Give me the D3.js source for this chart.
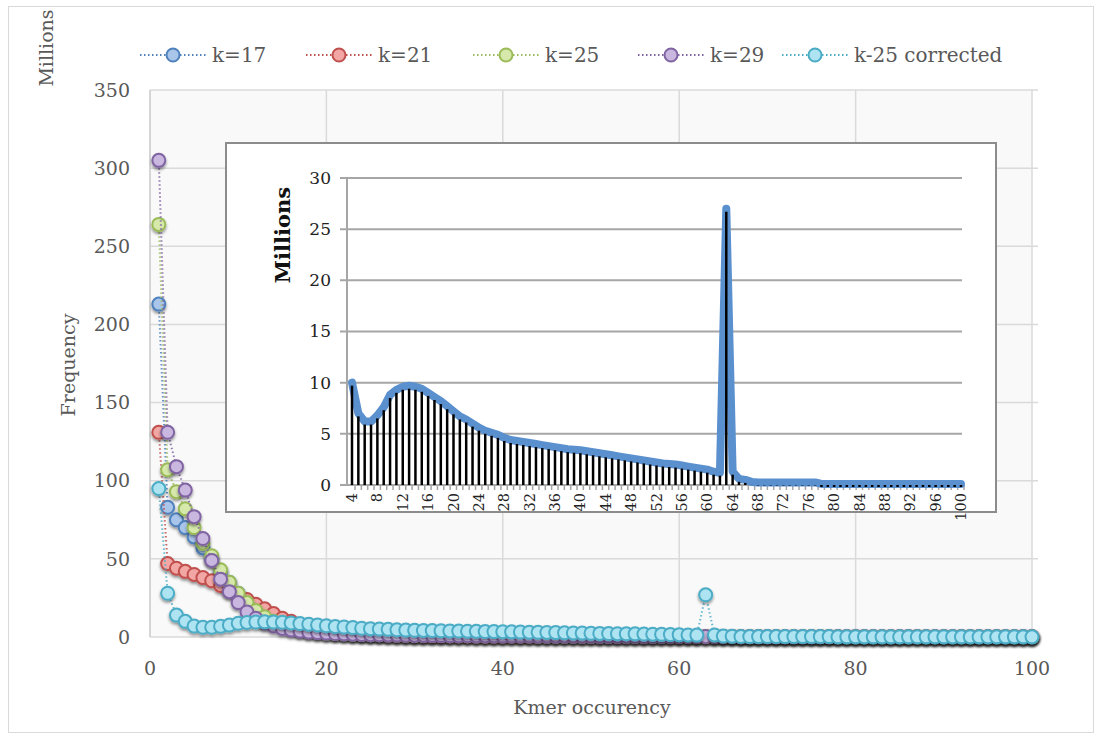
<!DOCTYPE html>
<html>
<head>
<meta charset="utf-8">
<script src="https://cdn.jsdelivr.net/npm/d3@7"></script>
<style>
  body { margin: 0; background: #fff; }
  text { font-family: "DejaVu Serif", serif; }
</style>
</head>
<body>
<div id="chart"></div>
<script>
// Main chart: frequency (millions) per kmer occurrence 1..100
const occurrence = d3.range(1, 101);

const k17 = [
  213, 83, 75, 70, 64, 57, 50, 42, 35, 28, 22, 17, 13, 10, 8, 6.5, 5.2, 4.3, 3.6, 3.0,
  2.6, 2.2, 1.9, 1.7, 1.5, 1.3, 1.2, 1.1, 1.0, 0.9, 0.8, 0.8, 0.7, 0.7, 0.6, 0.6, 0.5, 0.5, 0.5, 0.4,
  0.4, 0.4, 0.4, 0.3, 0.3, 0.3, 0.3, 0.3, 0.3, 0.3, 0.2, 0.2, 0.2, 0.2, 0.2, 0.2, 0.2, 0.2, 0.2, 0.2,
  0.2, 0.2, 0.2, 0.2, 0.2, 0.2, 0.2, 0.2, 0.2, 0.2, 0.1, 0.1, 0.1, 0.1, 0.1, 0.1, 0.1, 0.1, 0.1, 0.1,
  0.1, 0.1, 0.1, 0.1, 0.1, 0.1, 0.1, 0.1, 0.1, 0.1, 0.1, 0.1, 0.1, 0.1, 0.1, 0.1, 0.1, 0.1, 0.1, 0.1
];
const k21 = [
  131, 47, 44, 42, 40, 38, 36, 33, 30, 27, 24, 21, 18, 15, 12, 10, 8, 6.5, 5.2, 4.2,
  3.4, 2.8, 2.3, 1.9, 1.6, 1.4, 1.2, 1.0, 0.9, 0.8, 0.7, 0.7, 0.6, 0.6, 0.5, 0.5, 0.5, 0.4, 0.4, 0.4,
  0.4, 0.3, 0.3, 0.3, 0.3, 0.3, 0.3, 0.3, 0.2, 0.2, 0.2, 0.2, 0.2, 0.2, 0.2, 0.2, 0.2, 0.2, 0.2, 0.2,
  0.2, 0.2, 0.2, 0.2, 0.2, 0.2, 0.1, 0.1, 0.1, 0.1, 0.1, 0.1, 0.1, 0.1, 0.1, 0.1, 0.1, 0.1, 0.1, 0.1,
  0.1, 0.1, 0.1, 0.1, 0.1, 0.1, 0.1, 0.1, 0.1, 0.1, 0.1, 0.1, 0.1, 0.1, 0.1, 0.1, 0.1, 0.1, 0.1, 0.1
];
const k25 = [
  264, 107, 93, 82, 70, 60, 52, 43, 35, 28, 22, 17, 13, 10, 7.5, 5.8, 4.5, 3.6, 3.0, 2.5,
  2.2, 2.0, 1.8, 1.6, 1.5, 1.4, 1.3, 1.2, 1.1, 1.0, 1.0, 0.9, 0.9, 0.8, 0.8, 0.8, 0.7, 0.7, 0.7, 0.6,
  0.6, 0.6, 0.6, 0.5, 0.5, 0.5, 0.5, 0.5, 0.4, 0.4, 0.4, 0.4, 0.4, 0.4, 0.4, 0.3, 0.3, 0.3, 0.3, 0.3,
  0.3, 0.3, 0.3, 0.3, 0.3, 0.3, 0.2, 0.2, 0.2, 0.2, 0.2, 0.2, 0.2, 0.2, 0.2, 0.2, 0.2, 0.2, 0.2, 0.2,
  0.2, 0.2, 0.2, 0.2, 0.2, 0.2, 0.2, 0.2, 0.2, 0.2, 0.2, 0.2, 0.2, 0.2, 0.2, 0.2, 0.2, 0.2, 0.2, 0.2
];
const k29 = [
  305, 131, 109, 94, 77, 63, 49, 37, 29, 22, 16, 12, 9, 7, 5.5, 4.5, 3.8, 3.2, 2.8, 2.5,
  2.2, 2.0, 1.8, 1.6, 1.5, 1.4, 1.3, 1.2, 1.1, 1.0, 1.0, 0.9, 0.9, 0.8, 0.8, 0.8, 0.7, 0.7, 0.7, 0.6,
  0.6, 0.6, 0.6, 0.5, 0.5, 0.5, 0.5, 0.5, 0.4, 0.4, 0.4, 0.4, 0.4, 0.4, 0.4, 0.3, 0.3, 0.3, 0.3, 0.3,
  0.3, 0.3, 0.3, 0.3, 0.3, 0.3, 0.2, 0.2, 0.2, 0.2, 0.2, 0.2, 0.2, 0.2, 0.2, 0.2, 0.2, 0.2, 0.2, 0.2,
  0.2, 0.2, 0.2, 0.2, 0.2, 0.2, 0.2, 0.2, 0.2, 0.2, 0.2, 0.2, 0.2, 0.2, 0.2, 0.2, 0.2, 0.2, 0.2, 0.2
];

// Inset: corrected k=25 for occurrence 4..100
const insetCats = d3.range(4, 101);
const insetValues = [
  10.0, 7.0, 6.2, 6.2, 6.8, 7.6, 8.8, 9.3, 9.6, 9.7, 9.6, 9.4, 9.0, 8.6, 8.2, 7.7, 7.2, 6.7, 6.4, 6.0,
  5.6, 5.3, 5.1, 4.9, 4.6, 4.4, 4.3, 4.2, 4.1, 4.0, 3.9, 3.8, 3.7, 3.6, 3.5, 3.45, 3.4, 3.3, 3.2, 3.1,
  3.0, 2.9, 2.8, 2.7, 2.6, 2.5, 2.4, 2.3, 2.2, 2.1, 2.05, 2.0, 1.9, 1.8, 1.7, 1.6, 1.5, 1.3, 1.2, 27.0,
  1.3, 0.6, 0.5, 0.3, 0.25, 0.25, 0.25, 0.25, 0.25, 0.25, 0.25, 0.25, 0.25, 0.25, 0.1, 0.1, 0.1, 0.1, 0.1, 0.1,
  0.1, 0.1, 0.1, 0.1, 0.1, 0.1, 0.1, 0.1, 0.1, 0.1, 0.1, 0.1, 0.1, 0.1, 0.1, 0.1, 0.1
];
const correctedHead = [95, 28, 14];
const corrected = correctedHead.concat(insetValues);

const yTicks = [0, 50, 100, 150, 200, 250, 300, 350];
const xTicks = [0, 20, 40, 60, 80, 100];
const insetYTicks = [0, 5, 10, 15, 20, 25, 30];
const insetXLabels = d3.range(4, 101, 4);

const series = [
  { name: "k=17", values: k17, stroke: "#4f81bd", fill: "#a9c5ea" },
  { name: "k=21", values: k21, stroke: "#c0504d", fill: "#f2a7a5" },
  { name: "k=25", values: k25, stroke: "#9bbb59", fill: "#d6e9ab" },
  { name: "k=29", values: k29, stroke: "#8064a2", fill: "#c9b7df" },
  { name: "k-25 corrected", values: corrected, stroke: "#4bacc6", fill: "#aee3f2" }
];

const W = 1105, H = 736;
const svg = d3.select("#chart").append("svg").attr("width", W).attr("height", H);

const defs = svg.append("defs");
const shadow = defs.append("filter").attr("id", "shadow")
  .attr("x", "-50%").attr("y", "-50%").attr("width", "200%").attr("height", "200%");
shadow.append("feDropShadow").attr("dx", 0).attr("dy", 2).attr("stdDeviation", 1.5)
  .attr("flood-color", "#000").attr("flood-opacity", 0.45);

// outer frame
svg.append("rect").attr("x", 8.5).attr("y", 6.5).attr("width", 1085).attr("height", 726)
  .attr("fill", "#fff").attr("stroke", "#d9d9d9");

const x = d3.scaleLinear().domain([0, 100]).range([150, 1032]);
const y = d3.scaleLinear().domain([0, 350]).range([637, 90]);

// plot area
svg.append("rect").attr("x", x(0)).attr("y", y(350))
  .attr("width", x(100) - x(0)).attr("height", y(0) - y(350)).attr("fill", "#f9f9f9");

svg.append("g").selectAll("line").data(yTicks).join("line")
  .attr("x1", x(0)).attr("x2", x(100) + 6)
  .attr("y1", d => y(d)).attr("y2", d => y(d))
  .attr("stroke", "#dadada").attr("stroke-width", 1.5);
svg.append("g").selectAll("line").data(xTicks).join("line")
  .attr("x1", d => x(d)).attr("x2", d => x(d))
  .attr("y1", y(350)).attr("y2", y(0))
  .attr("stroke", d => d === 0 ? "#c8c8c8" : "#dadada").attr("stroke-width", 1.5);

svg.append("g").selectAll("text").data(yTicks).join("text")
  .attr("x", 130).attr("y", d => y(d)).attr("dy", "0.35em")
  .attr("text-anchor", "end").attr("font-size", 19).attr("fill", "#595959")
  .text(d => d);
svg.append("g").selectAll("text").data(xTicks).join("text")
  .attr("x", d => x(d)).attr("y", 668).attr("dy", "0.35em")
  .attr("text-anchor", "middle").attr("font-size", 19).attr("fill", "#595959")
  .text(d => d);

svg.append("text").attr("transform", "translate(46,48) rotate(-90)")
  .attr("text-anchor", "middle").attr("dy", "0.35em").attr("font-size", 19).attr("fill", "#595959")
  .text("Millions");
svg.append("text").attr("transform", "translate(68,365) rotate(-90)")
  .attr("text-anchor", "middle").attr("dy", "0.35em").attr("font-size", 19).attr("fill", "#595959")
  .text("Frequency");
svg.append("text").attr("x", 592).attr("y", 707).attr("dy", "0.35em")
  .attr("text-anchor", "middle").attr("font-size", 19).attr("fill", "#595959")
  .text("Kmer occurency");

// series lines and markers
const line = d3.line().x((d, i) => x(occurrence[i])).y(d => y(d));
series.forEach(s => {
  const g = svg.append("g");
  g.append("path").datum(s.values).attr("d", line)
    .attr("fill", "none").attr("stroke", s.stroke).attr("stroke-width", 2)
    .attr("stroke-dasharray", "1.5,2.5").attr("opacity", 0.85);
  g.append("g").attr("filter", "url(#shadow)")
    .selectAll("circle").data(s.values).join("circle")
    .attr("cx", (d, i) => x(occurrence[i])).attr("cy", d => y(d)).attr("r", 6.5)
    .attr("fill", s.fill).attr("stroke", s.stroke).attr("stroke-width", 2);
});

// legend
const legendX = [173, 339, 506, 671, 815];
const legend = svg.append("g");
series.forEach((s, i) => {
  const cx = legendX[i];
  legend.append("line").attr("x1", cx - 33).attr("x2", cx + 33).attr("y1", 55).attr("y2", 55)
    .attr("stroke", s.stroke).attr("stroke-width", 2).attr("stroke-dasharray", "1.5,2.5");
  legend.append("circle").attr("cx", cx).attr("cy", 55).attr("r", 6.5)
    .attr("fill", s.fill).attr("stroke", s.stroke).attr("stroke-width", 2);
  legend.append("text").attr("x", cx + 39).attr("y", 55).attr("dy", "0.35em")
    .attr("font-size", 20).attr("fill", "#595959").text(s.name);
});

// inset chart
const ix = d3.scalePoint().domain(insetCats).range([352, 961]);
const iy = d3.scaleLinear().domain([0, 30]).range([485, 178]);
const inset = svg.append("g");
inset.append("rect").attr("x", 226).attr("y", 143).attr("width", 770).attr("height", 369)
  .attr("fill", "#fff").attr("stroke", "#8c8c8c").attr("stroke-width", 2);

inset.append("g").selectAll("line").data(insetYTicks).join("line")
  .attr("x1", 340).attr("x2", 962)
  .attr("y1", d => iy(d)).attr("y2", d => iy(d))
  .attr("stroke", "#a6a6a6").attr("stroke-width", 2);
inset.append("line").attr("x1", 347).attr("x2", 347).attr("y1", iy(30)).attr("y2", iy(0))
  .attr("stroke", "#a6a6a6").attr("stroke-width", 2);
inset.append("g").selectAll("line").data(insetCats).join("line")
  .attr("x1", d => ix(d) + 3).attr("x2", d => ix(d) + 3)
  .attr("y1", iy(0)).attr("y2", iy(0) + 5)
  .attr("stroke", "#a6a6a6").attr("stroke-width", 1.5);

inset.append("g").selectAll("text").data(insetYTicks).join("text")
  .attr("x", 331).attr("y", d => iy(d)).attr("dy", "0.35em")
  .attr("text-anchor", "end").attr("font-size", 17).attr("fill", "#222")
  .text(d => d);
inset.append("g").selectAll("text").data(insetXLabels).join("text")
  .attr("transform", d => `translate(${ix(d)},493) rotate(-90)`)
  .attr("text-anchor", "end").attr("dy", "0.35em")
  .attr("font-size", 14.5).attr("fill", "#222")
  .text(d => d);
inset.append("text").attr("transform", "translate(283,235) rotate(-90)")
  .attr("text-anchor", "middle").attr("dy", "0.35em")
  .attr("font-size", 21).attr("font-weight", "bold").attr("fill", "#111")
  .text("Millions");

const insetLine = d3.line().x((d, i) => ix(insetCats[i])).y(d => iy(d));
inset.append("path").datum(insetValues).attr("d", insetLine)
  .attr("fill", "none").attr("stroke", "#5b90cf").attr("stroke-width", 8)
  .attr("stroke-linejoin", "round").attr("stroke-linecap", "round");
inset.append("g").selectAll("line").data(insetValues).join("line")
  .attr("x1", (d, i) => ix(insetCats[i])).attr("x2", (d, i) => ix(insetCats[i]))
  .attr("y1", iy(0)).attr("y2", d => iy(d) + 3)
  .attr("stroke", "#000").attr("stroke-width", 2.5);
</script>
</body>
</html>
